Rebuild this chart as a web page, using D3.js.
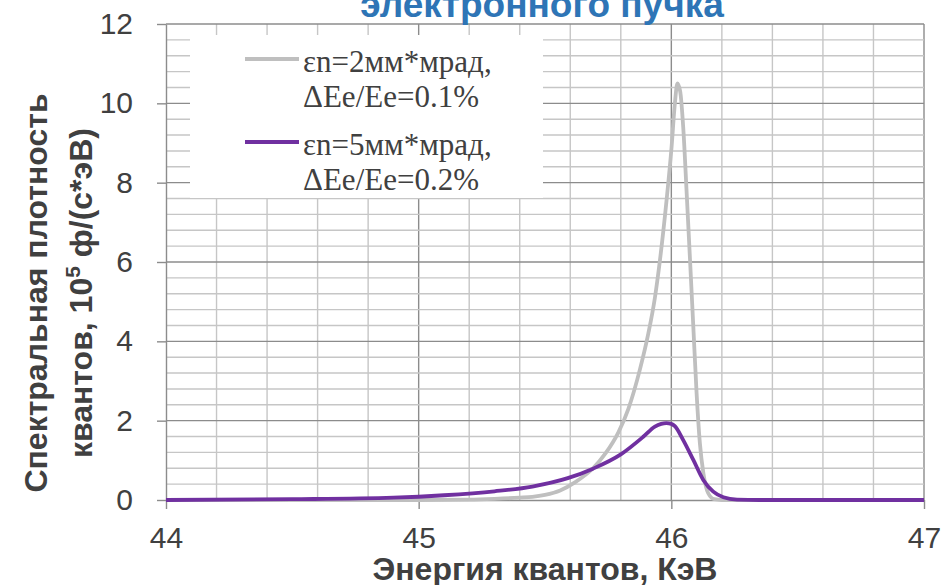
<!DOCTYPE html>
<html>
<head>
<meta charset="utf-8">
<script src="https://cdn.jsdelivr.net/npm/d3@7"></script>
<style>
  body { margin: 0; background: #fff; }
  text { font-family: "Liberation Sans", Arial, sans-serif; }
</style>
</head>
<body>
<div id="chart"></div>
<script>
var xTicks = [44, 45, 46, 47];
var yTicks = [0, 2, 4, 6, 8, 10, 12];

var grayE = [44.0, 44.5, 45.0, 45.2, 45.3, 45.4, 45.45, 45.5, 45.56, 45.62, 45.69, 45.74, 45.79, 45.83, 45.876, 45.909, 45.935, 45.955, 45.981, 46.001, 46.014, 46.024, 46.035, 46.047, 46.061, 46.074, 46.087, 46.1, 46.113, 46.127, 46.146, 46.17, 46.2, 47.0];
var grayY = [0, 0, 0, 0.01, 0.03, 0.06, 0.08, 0.13, 0.24, 0.45, 0.8, 1.18, 1.7, 2.3, 3.3, 4.2, 5.1, 6.05, 7.55, 8.9, 10.0, 10.5, 10.3, 9.4, 7.7, 6.05, 4.37, 2.69, 1.43, 0.67, 0.17, 0.02, 0, 0];

var purpleE = [44.0, 44.5, 44.9, 45.1, 45.3, 45.45, 45.59, 45.69, 45.8, 45.89, 45.935, 45.96, 45.98, 46.0, 46.014, 46.047, 46.087, 46.127, 46.166, 46.206, 46.26, 46.35, 47.0];
var purpleY = [0, 0.02, 0.06, 0.12, 0.22, 0.34, 0.55, 0.79, 1.15, 1.6, 1.85, 1.92, 1.94, 1.92, 1.86, 1.51, 1.01, 0.5, 0.21, 0.07, 0.01, 0, 0];

var legendLabels = [["εn=2мм*мрад,", "ΔEe/Ee=0.1%"], ["εn=5мм*мрад,", "ΔEe/Ee=0.2%"]];
var colors = ["#bfbfbf", "#7030a0"];

var W = 943, H = 585;
var margin = {top: 24, right: 19, bottom: 85, left: 166},
    width = W - margin.left - margin.right,
    height = H - margin.top - margin.bottom;

var svg = d3.select("#chart").append("svg")
  .attr("width", W).attr("height", H);

var g = svg.append("g")
  .attr("transform", "translate(" + margin.left + "," + margin.top + ")");

var x = d3.scaleLinear().domain([44, 47]).range([0, width]);
var y = d3.scaleLinear().domain([0, 12]).range([height, 0]);

// grid
var xGrid = d3.range(1, 16).map(function(i) { return {v: 44 + i * 0.2, major: i % 5 == 0}; });
var yGrid = d3.range(1, 31).map(function(i) { return {v: i * 0.4, major: i % 5 == 0}; });

g.selectAll(".gx").data(xGrid).enter().append("line")
  .attr("x1", function(d) { return x(d.v); }).attr("x2", function(d) { return x(d.v); })
  .attr("y1", 0).attr("y2", height)
  .attr("stroke", function(d) { return d.major ? "#8c8c8c" : "#c6c6c6"; })
  .attr("stroke-width", 1.4);

g.selectAll(".gy").data(yGrid).enter().append("line")
  .attr("x1", 0).attr("x2", width)
  .attr("y1", function(d) { return y(d.v); }).attr("y2", function(d) { return y(d.v); })
  .attr("stroke", function(d) { return d.major ? "#8c8c8c" : "#c6c6c6"; })
  .attr("stroke-width", 1.4);

// axes
var xAxis = g.append("g")
  .attr("transform", "translate(0," + height + ")")
  .call(d3.axisBottom(x).tickValues(xTicks).tickSize(9).tickSizeOuter(0).tickPadding(18).tickFormat(d3.format("d")));
var yAxis = g.append("g")
  .call(d3.axisLeft(y).tickValues(yTicks).tickSize(9).tickSizeOuter(0).tickPadding(24));

[xAxis, yAxis].forEach(function(a) {
  a.select(".domain").attr("stroke", "#8c8c8c").attr("stroke-width", 1.4);
  a.selectAll(".tick line").attr("stroke", "#8c8c8c").attr("stroke-width", 1.4);
  a.selectAll(".tick text")
    .attr("fill", "#404040")
    .style("font-family", "'Liberation Sans', Arial, sans-serif")
    .style("font-size", "30px");
});

// curves
var line = d3.line()
  .x(function(d) { return x(d[0]); })
  .y(function(d) { return y(d[1]); })
  .curve(d3.curveMonotoneX);

var series = [d3.zip(grayE, grayY), d3.zip(purpleE, purpleY)];
g.selectAll(".series").data(series).enter().append("path")
  .attr("fill", "none")
  .attr("stroke", function(d, i) { return colors[i]; })
  .attr("stroke-width", 3.8)
  .attr("stroke-linejoin", "round")
  .attr("d", line);

// legend
var lg = svg.append("g");
lg.append("rect")
  .attr("x", 190).attr("y", 35).attr("width", 353).attr("height", 163)
  .attr("fill", "#fff");

legendLabels.forEach(function(lab, i) {
  var base = 72 + i * 83;
  lg.append("line")
    .attr("x1", 245).attr("x2", 299)
    .attr("y1", base - 13).attr("y2", base - 13)
    .attr("stroke", colors[i]).attr("stroke-width", 3.8);
  var t = lg.append("text")
    .attr("x", 303).attr("y", base)
    .attr("fill", "#404040")
    .style("font-family", "'Liberation Serif', 'Times New Roman', serif")
    .style("font-size", "31px");
  lab.forEach(function(s, j) {
    t.append("tspan").attr("x", 303).attr("y", base + j * 35).text(s);
  });
});

// titles
svg.append("text")
  .attr("x", 542).attr("y", 17)
  .attr("text-anchor", "middle")
  .attr("fill", "#2e75b6")
  .style("font-size", "37px").style("font-weight", "bold")
  .text("электронного пучка");

svg.append("text")
  .attr("x", margin.left + width / 2).attr("y", 580)
  .attr("text-anchor", "middle")
  .attr("fill", "#404040")
  .style("font-size", "32px").style("font-weight", "bold")
  .text("Энергия квантов, КэВ");

var yl = svg.append("text")
  .attr("transform", "translate(0,293) rotate(-90)")
  .attr("text-anchor", "middle")
  .attr("fill", "#404040")
  .style("font-size", "32px").style("font-weight", "bold");
yl.append("tspan").attr("x", 0).attr("y", 47).text("Спектральная плотность");
var l2 = yl.append("tspan").attr("x", 0).attr("y", 92);
l2.append("tspan").text("квантов, 10");
l2.append("tspan").attr("dy", -12).style("font-size", "21px").text("5");
l2.append("tspan").attr("dy", 12).text(" ф/(с*эВ)");
</script>
</body>
</html>
